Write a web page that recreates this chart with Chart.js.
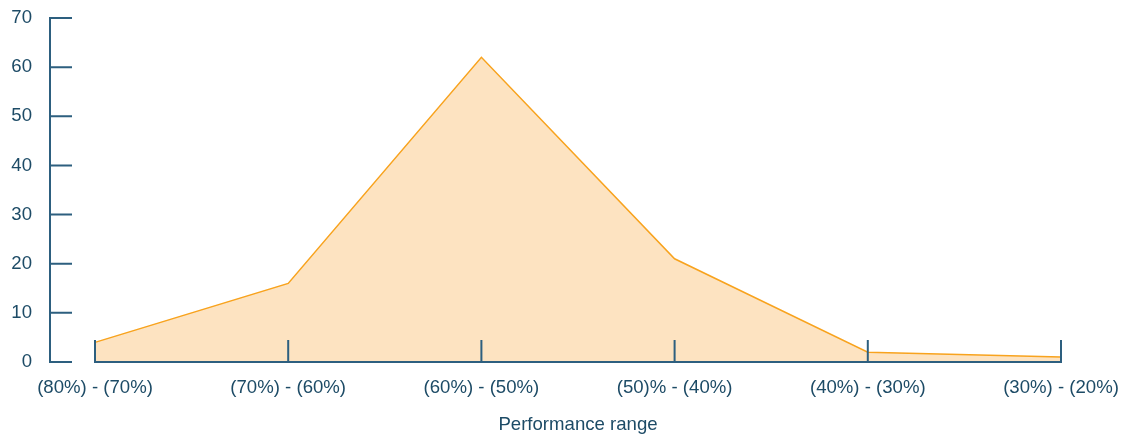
<!DOCTYPE html>
<html>
<head>
<meta charset="utf-8">
<script src="https://cdn.jsdelivr.net/npm/chart.js@4"></script>
<style>
html,body{margin:0;padding:0;background:#fff;}
#wrap{width:1121px;height:436px;}
</style>
</head>
<body>
<div id="wrap"><canvas id="c" width="1121" height="436"></canvas></div>
<script>
const categories = ["(80%) - (70%)", "(70%) - (60%)", "(60%) - (50%)", "(50)% - (40%)", "(40%) - (30%)", "(30%) - (20%)"];
const values = [4, 16, 62, 21, 2, 1];
const yTicks = [0, 10, 20, 30, 40, 50, 60, 70];
const xTitle = "Performance range";

const axisColor = "#2d5f7f";
const textColor = "#1d4b66";
const fontSpec = { family: 'Liberation Sans, Arial', size: 18.6 };

const axesPlugin = {
  id: 'customAxes',
  afterDatasetsDraw(chart) {
    const ctx = chart.ctx;
    const x = chart.scales.x, y = chart.scales.y;
    const ca = chart.chartArea;
    const y0 = y.getPixelForValue(0);
    const yTop = y.getPixelForValue(yTicks[yTicks.length - 1]);
    const ax = ca.left - 45;
    ctx.save();
    ctx.strokeStyle = axisColor;
    ctx.lineWidth = 2;
    ctx.beginPath();
    ctx.moveTo(ax, yTop - 1); ctx.lineTo(ax, y0 + 1);
    yTicks.forEach(v => { const p = y.getPixelForValue(v); ctx.moveTo(ax, p); ctx.lineTo(ax + 22, p); });
    ctx.stroke();
    ctx.beginPath();
    ctx.moveTo(ca.left - 1, y0); ctx.lineTo(ca.right + 1, y0);
    categories.forEach((c, i) => { const p = x.getPixelForValue(i); ctx.moveTo(p, y0); ctx.lineTo(p, y0 - 22); });
    ctx.stroke();
    ctx.restore();
  }
};

new Chart(document.getElementById('c'), {
  type: 'line',
  data: {
    labels: categories,
    datasets: [{
      data: values,
      borderColor: '#f8a31e',
      borderWidth: 1.5,
      backgroundColor: '#fde3c1',
      fill: 'origin',
      tension: 0,
      pointRadius: 0
    }]
  },
  options: {
    responsive: false,
    animation: false,
    layout: { padding: { top: 18, right: 60, bottom: 0, left: 0 } },
    plugins: { legend: { display: false }, tooltip: { enabled: false } },
    scales: {
      x: {
        type: 'category',
        offset: false,
        afterFit(s) { s.height = 74; s.paddingLeft = 0; s.paddingRight = 0; },
        grid: { display: false, drawTicks: false },
        border: { display: false },
        ticks: { color: textColor, font: fontSpec, padding: 15, maxRotation: 0, autoSkip: false },
        title: { display: true, text: xTitle, color: textColor, font: fontSpec, padding: { top: 14, bottom: 0 } }
      },
      y: {
        min: 0, max: 70,
        afterBuildTicks(s) { s.ticks = yTicks.map(v => ({ value: v })); },
        afterFit(s) { s.width = 95; s.paddingTop = 10; s.paddingBottom = 10; },
        grid: { display: false, drawTicks: false },
        border: { display: false },
        ticks: { color: textColor, font: fontSpec, padding: 63 }
      }
    }
  },
  plugins: [axesPlugin]
});
</script>
</body>
</html>
